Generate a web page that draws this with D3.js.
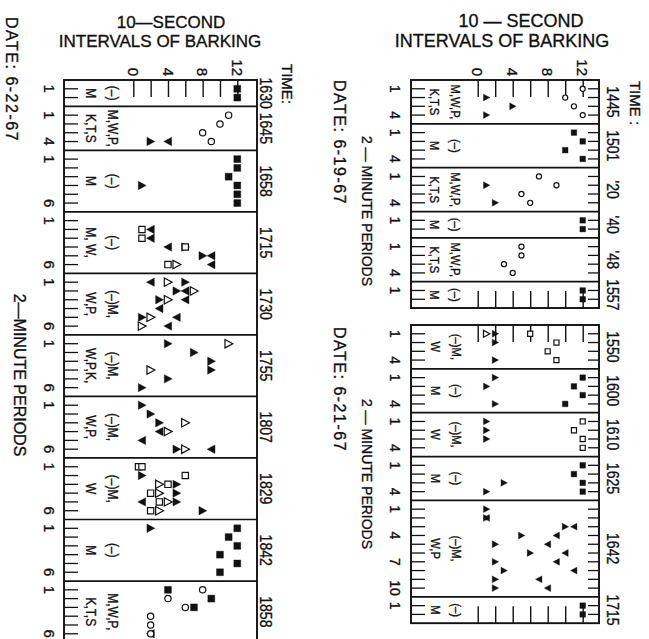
<!DOCTYPE html>
<html>
<head>
<meta charset="utf-8">
<script src="https://cdn.jsdelivr.net/npm/d3@7"></script>
<style>
  body { margin: 0; background: #fff; }
  svg text { font-family: "Liberation Sans", Arial, Helvetica, sans-serif; fill: #111; stroke: #111; stroke-width: 0.35px; }
</style>
</head>
<body>
<div id="chart"></div>
<script>
// VALUE AXIS (10-second intervals of barking per 2-minute period)
var tickValues = [0, 2, 4, 6, 8, 10, 12];
var tickLabels = [0, 4, 8, 12];

// DATE 6-22-67
var times622 = ["1630", "1645", "1658", "1715", "1730", "1755", "1807", "1829", "1842", "1858"];
var rows622 = [2, 4, 6, 6, 6, 6, 6, 6, 6, 6];
var dogs622 = [["(–)", "M"], ["M,W,P,", "K,T,S"], ["(–)", "M"], ["(–)", "M, W,"], ["(–)M,", "W,P,"],
  ["(–)M,", "W,P,K,"], ["(–)M,", "W,P,"], ["(–)M,", "W"], ["(–)", "M"], ["M,W,P,", "K,T,S"]];
var rowTicks622 = [[1], [1, 4], [1, 6], [1, 6], [1, 6], [1, 6], [1, 6], [1, 6], [1, 6], [1, 6]];
// [session, period, intervals, symbol]
var marks622 = [
  [0,1,12,"fs"],[0,2,12,"fs"],
  [1,1,11,"oc"],[1,2,10,"oc"],[1,3,8,"oc"],[1,4,9,"oc"],[1,4,2,"tr"],[1,4,4,"tl"],
  [2,1,12,"fs"],[2,2,12,"fs"],[2,3,11,"fs"],[2,4,12,"fs"],[2,5,12,"fs"],[2,6,12,"fs"],[2,4,1,"tr"],
  [3,2,1,"os"],[3,2,2,"tl"],[3,3,1,"os"],[3,3,2,"tl"],[3,4,4,"tl"],[3,4,6,"tr"],[3,4,6,"os"],
  [3,5,8,"tr"],[3,5,9,"tl"],[3,6,4,"os"],[3,6,5,"or"],[3,6,9,"tl"],
  [4,1,2,"tl"],[4,1,4,"or"],[4,1,6,"tr"],[4,2,5,"tr"],[4,2,6,"tl"],[4,2,7,"or"],
  [4,3,3,"tr"],[4,3,4,"or"],[4,3,6,"tl"],[4,4,3,"tl"],[4,5,1,"tr"],[4,5,2,"or"],[4,5,5,"tl"],
  [4,6,1,"or"],[4,6,4,"tl"],
  [5,1,4,"tr"],[5,1,11,"or"],[5,2,7,"tr"],[5,3,9,"tr"],[5,4,2,"or"],[5,4,9,"tr"],[5,5,4,"tr"],[5,6,1,"tr"],
  [6,1,1,"tr"],[6,2,2,"tr"],[6,3,3,"tr"],[6,3,6,"or"],[6,4,3,"tl"],[6,4,4,"or"],[6,5,1,"tl"],
  [6,6,5,"tr"],[6,6,6,"or"],[6,6,9,"tl"],
  [7,1,0.6,"os"],[7,1,1,"os"],[7,2,1,"tr"],[7,2,6,"os"],[7,3,3,"or"],[7,3,4,"os"],[7,3,5,"tr"],
  [7,4,2,"os"],[7,4,3,"or"],[7,4,5,"tr"],[7,5,1,"tl"],[7,5,3,"os"],[7,5,4,"or"],[7,5,5,"tr"],
  [7,6,2,"os"],[7,6,3,"or"],[7,6,8,"tr"],
  [8,1,2,"tr"],[8,1,12,"fs"],[8,2,11,"fs"],[8,3,12,"fs"],[8,4,10,"fs"],[8,5,12,"fs"],[8,6,10,"fs"],
  [9,1,4,"fs"],[9,1,8,"oc"],[9,2,4,"oc"],[9,2,9,"fs"],[9,3,6,"oc"],[9,3,7,"fs"],[9,4,2,"oc"],
  [9,5,2,"oc"],[9,6,2,"tl"],[9,6,2,"oc"]
];

// DATE 6-19-67
var times619 = ["1445", "1501", "'20", "'40", "'48", "1557"];
var rows619 = [4, 4, 4, 2, 4, 2];
var dogs619 = [["M,W,P,", "K,T,S"], ["(–)", "M"], ["M,W,P,", "K,T,S"], ["(–)", "M"], ["M,W,P,", "K,T,S"], ["(–)", "M"]];
var rowTicks619 = [[1, 4], [1, 4], [1, 4], [1], [1, 4], [1]];
var marks619 = [
  [0,1,12,"oc"],[0,2,1,"tr"],[0,2,10,"oc"],[0,3,4,"tr"],[0,3,11,"oc"],[0,4,1,"tr"],[0,4,12,"oc"],
  [1,1,11,"fs"],[1,2,12,"fs"],[1,3,10,"fs"],[1,4,12,"fs"],
  [2,1,7,"oc"],[2,2,1,"tr"],[2,2,9,"oc"],[2,3,5,"oc"],[2,4,2,"tr"],[2,4,6,"oc"],
  [3,1,12,"fs"],[3,2,12,"fs"],
  [4,1,5,"oc"],[4,2,5,"oc"],[4,3,3,"oc"],[4,4,4,"oc"],
  [5,1,12,"fs"],[5,2,12,"fs"]
];

// DATE 6-21-67
var times621 = ["1550", "1600", "1610", "1625", "1642", "1715"];
var rows621 = [4, 4, 4, 4, 10, 2];
var dogs621 = [["(–)M,", "W"], ["(–)", "M"], ["(–)M,", "W"], ["(–)", "M"], ["(–)M,", "W,P"], ["(–)", "M"]];
var rowTicks621 = [[1, 4], [1, 4], [1, 4], [1, 4], [1, 4, 7, 10], [1]];
var marks621 = [
  [0,1,1,"or"],[0,1,2,"tr"],[0,1,6,"os"],[0,2,2,"tr"],[0,2,9,"os"],[0,3,8,"os"],[0,4,2,"tr"],[0,4,9,"os"],
  [1,1,2,"tr"],[1,1,12,"fs"],[1,2,1,"tr"],[1,2,11,"fs"],[1,3,12,"fs"],[1,4,2,"tr"],[1,4,10,"fs"],
  [2,1,1,"tr"],[2,1,12,"os"],[2,2,1,"tr"],[2,2,11,"os"],[2,3,1,"tr"],[2,3,12,"os"],[2,4,12,"os"],
  [3,1,12,"fs"],[3,2,11,"fs"],[3,3,3,"tr"],[3,3,12,"fs"],[3,4,1,"tr"],[3,4,12,"fs"],
  [4,1,1,"tr"],[4,2,1,"tr"],[4,2,1,"tl"],[4,3,10,"tr"],[4,3,11,"tl"],[4,4,5,"tr"],[4,4,9,"tl"],
  [4,5,2,"tr"],[4,5,8,"tl"],[4,6,6,"tr"],[4,6,10,"tl"],[4,7,2,"tr"],[4,7,9,"tl"],
  [4,8,3,"tr"],[4,8,11,"tl"],[4,9,2,"tr"],[4,9,7,"tl"],[4,10,2,"tr"],[4,10,8,"tl"],
  [5,1,12,"fs"],[5,2,12,"fs"]
];

// SVG
var svg = d3.select("#chart").append("svg")
  .attr("width", 649)
  .attr("height", 639);

// vertical (rotated) text, reads top to bottom
function vText(g, x, y, str, size, anchor, squeeze) {
  return g.append("text")
    .attr("transform", `translate(${x},${y}) rotate(90) scale(${squeeze || 1},1)`)
    .attr("dy", "0.35em")
    .attr("text-anchor", anchor || "middle")
    .style("font-size", size + "px")
    .text(str);
}

var shapes = {
  tr: "M-3.5,-4L4,0L-3.5,4Z",
  tl: "M3.5,-4L-4,0L3.5,4Z",
  or: "M-3.5,-4L4,0L-3.5,4Z",
  fs: "M-3.3,-3.3H3.3V3.3H-3.3Z",
  os: "M-3,-3H3V3H-3Z",
  oc: "M-3,0A3,3 0 1,0 3,0A3,3 0 1,0 -3,0Z"
};
var isOpen = { or: true, os: true, oc: true };

function drawPanel(p) {
  var g = svg.append("g");

  var starts = [], total = 0;
  p.rows.forEach(function(n) { starts.push(total); total += n + 1; });

  var x = d3.scaleLinear().domain([0, 12]).range([p.x0, p.x12]);
  var y = d3.scaleLinear().domain([0, total]).range([p.top, p.top + total * p.pitch]);
  var bottom = y(total);

  // value ticks along top (and bottom)
  g.append("g")
    .attr("transform", `translate(0,${p.top})`)
    .call(d3.axisTop(x).tickValues(tickValues).tickSize(-17).tickFormat(""))
    .call(a => a.select(".domain").remove())
    .selectAll("line").attr("stroke", "#111").attr("stroke-width", 1.4);

  if (p.bottomTicks) {
    g.append("g")
      .attr("transform", `translate(0,${bottom})`)
      .call(d3.axisBottom(x).tickValues(tickValues).tickSize(-17).tickFormat(""))
      .call(a => a.select(".domain").remove())
      .selectAll("line").attr("stroke", "#111").attr("stroke-width", 1.4);
  }

  if (p.tickLabels) {
    tickLabels.forEach(function(v) {
      vText(g, x(v), p.top - 4, v, 15, "end");
    });
  }

  // session blocks
  p.rows.forEach(function(n, i) {
    var s = starts[i];
    if (i > 0) {
      g.append("line")
        .attr("x1", p.frameL).attr("x2", p.frameR)
        .attr("y1", y(s)).attr("y2", y(s))
        .attr("stroke", "#111").attr("stroke-width", 1.7);
    }
    d3.range(1, n + 1).forEach(function(r) {
      g.append("line")
        .attr("x1", p.frameL).attr("x2", p.frameL + 14)
        .attr("y1", y(s + r)).attr("y2", y(s + r))
        .attr("stroke", "#111").attr("stroke-width", 1.3);
      if (p.rightTicks) {
        g.append("line")
          .attr("x1", p.frameR - 11).attr("x2", p.frameR)
          .attr("y1", y(s + r)).attr("y2", y(s + r))
          .attr("stroke", "#111").attr("stroke-width", 1.3);
      }
    });
    p.rowTicks[i].forEach(function(r) {
      vText(g, p.rowLabelX, y(s + r), r, p.rowFont);
    });
    var mid = y(s + (n + 1) / 2);
    vText(g, p.timeX, mid, p.times[i], 16, "middle", 0.88);
    vText(g, p.dogX1, mid, p.dogs[i][0], p.dogFont, "middle", p.squeeze);
    vText(g, p.dogX2, mid, p.dogs[i][1], p.dogFont, "middle", p.squeeze);
  });

  // frame
  g.append("rect")
    .attr("x", p.frameL).attr("y", p.top)
    .attr("width", p.frameR - p.frameL).attr("height", bottom - p.top)
    .attr("fill", "none").attr("stroke", "#111").attr("stroke-width", 1.9);

  // marks
  g.append("g").selectAll("path")
    .data(p.marks)
    .enter()
    .append("path")
    .attr("d", d => shapes[d[3]])
    .attr("transform", d => `translate(${x(d[2])},${y(starts[d[0]] + d[1])}) scale(${p.markScale})`)
    .attr("fill", d => isOpen[d[3]] ? "#fff" : "#111")
    .attr("stroke", "#111")
    .attr("stroke-width", d => isOpen[d[3]] ? 1.2 : 0.4)
    .attr("vector-effect", "non-scaling-stroke");

  // titles
  p.titles.forEach(function(t) {
    g.append("text")
      .attr("x", t[0]).attr("y", t[1])
      .attr("text-anchor", "middle")
      .style("font-size", t[3] + "px")
      .text(t[2]);
  });
  p.vTitles.forEach(function(t) {
    vText(g, t[0], t[1], t[2], t[3], t[4]).style("letter-spacing", t[5] + "px");
  });
}

drawPanel({
  times: times622, rows: rows622, dogs: dogs622, rowTicks: rowTicks622, marks: marks622,
  frameL: 64, frameR: 257, top: 80, pitch: 8.79, x0: 133.3, x12: 237.3,
  rowLabelX: 49, rowFont: 15, timeX: 266, dogX1: 113.5, dogX2: 91, dogFont: 15, squeeze: 0.8,
  markScale: 1.05, rightTicks: false, bottomTicks: false, tickLabels: true,
  titles: [[171, 28, "10—SECOND", 17], [160, 47, "INTERVALS OF BARKING", 17]],
  vTitles: [[12, 17, "DATE: 6-22-67", 16, "start", 1.5], [20, 375, "2—MINUTE PERIODS", 16, "middle", 0],
            [287, 84, "TIME:", 15, "middle", 0]]
});

drawPanel({
  times: times619, rows: rows619, dogs: dogs619, rowTicks: rowTicks619, marks: marks619,
  frameL: 411, frameR: 599, top: 80, pitch: 8.77, x0: 477.7, x12: 582.7,
  rowLabelX: 395, rowFont: 14, timeX: 613, dogX1: 455, dogX2: 434, dogFont: 12.5, squeeze: 0.9,
  markScale: 0.85, rightTicks: true, bottomTicks: true, tickLabels: true,
  titles: [[521, 27, "10 — SECOND", 18], [502, 47, "INTERVALS OF BARKING", 18]],
  vTitles: [[340, 80, "DATE: 6-19-67", 16, "start", 1.5], [367, 211, "2 — MINUTE PERIODS", 14, "middle", 0],
            [635, 103, "TIME :", 15, "middle", 0]]
});

drawPanel({
  times: times621, rows: rows621, dogs: dogs621, rowTicks: rowTicks621, marks: marks621,
  frameL: 411, frameR: 599, top: 325, pitch: 8.77, x0: 477.7, x12: 582.7,
  rowLabelX: 395, rowFont: 14, timeX: 613, dogX1: 456, dogX2: 435, dogFont: 12.5, squeeze: 0.9,
  markScale: 0.85, rightTicks: true, bottomTicks: true, tickLabels: false,
  titles: [],
  vTitles: [[340, 327, "DATE: 6-21-67", 16, "start", 1.5], [367, 474, "2 — MINUTE PERIODS", 14, "middle", 0]]
});
</script>
</body>
</html>
